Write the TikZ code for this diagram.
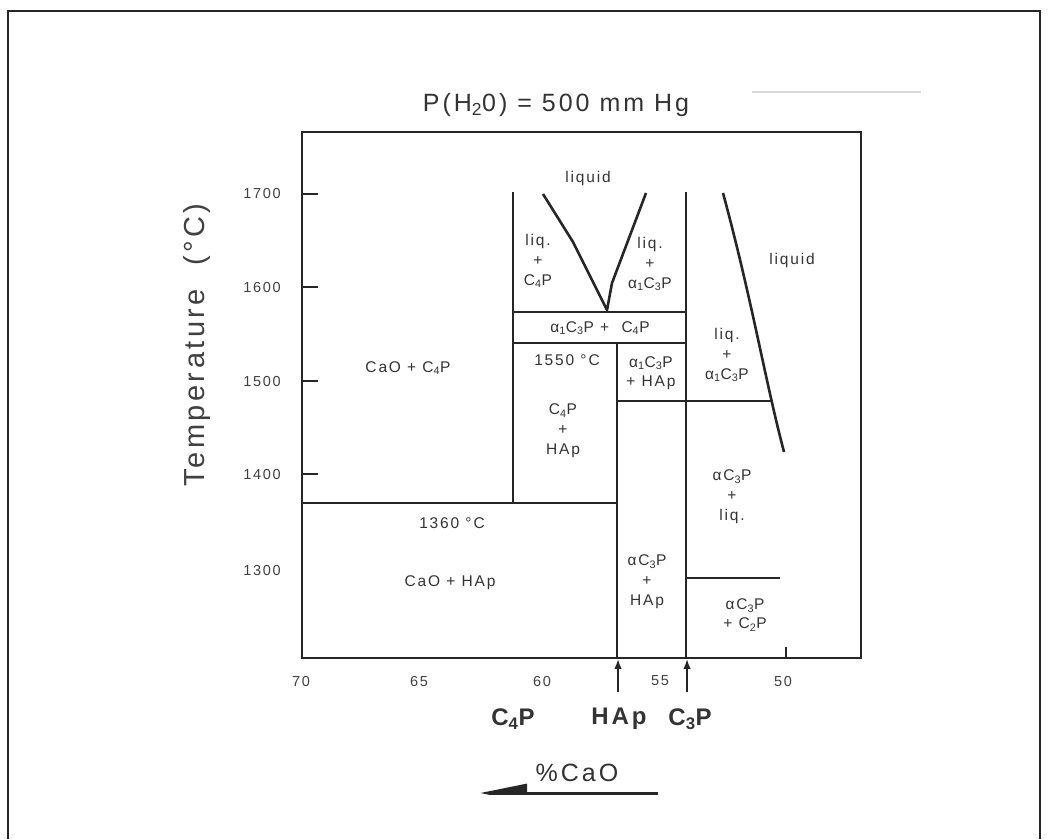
\documentclass[tikz,border=0pt]{standalone}
\usepackage{fontspec}
\setmainfont{Liberation Sans}[LetterSpace=12]
\usepackage{tikz}
\usetikzlibrary{arrows.meta,positioning}

\begin{document}
\begin{tikzpicture}[x=1pt, y=-1pt, >=Latex,
    bound/.style={draw=black!85, line width=2.6pt},
    phase/.style={text=black!80, font=\fontsize{15.5}{17}\selectfont, inner sep=1pt},
    ticklab/.style={text=black!75, font=\fontsize{14.5}{16}\selectfont, inner sep=1pt},
    comp/.style={text=black!80, font=\fontsize{24}{27}\selectfont\bfseries, inner sep=1pt}]

    \useasboundingbox (0,0) rectangle (1048,839);
    % outer frame
    \draw [black!85, line width=2.5pt] (8,839) -- (8,11) -- (1040,11) -- (1040,839);
    \draw [black!15, line width=1.5pt] (752,92) -- (921,92);

    % plot box and axes
    \draw [bound] (302,132) rectangle (861,658);
    \foreach \yy/\tt in {194/1700, 287/1600, 381/1500, 474/1400} {
        \draw [bound, line width=2pt] (302,\yy) -- (318,\yy);
        \node [ticklab] (t\tt) at (262,\yy) {\tt};
    }
    \node [ticklab] (t1300) at (262,570) {1300};
    \foreach \xx/\cc in {301/70, 419/65, 542/60, 660/55, 783/50}
        \node [ticklab] (c\cc) at (\xx,681) {\cc};
    \draw [bound, line width=2pt] (786,658) -- (786,647);

    \node [text=black!80, font=\fontsize{25}{28}\selectfont] (title) at (556,105) {P(H\textsubscript{2}0) = 500 mm Hg};
    \node [text=black!75, rotate=90, font=\fontsize{29}{32}\selectfont] (ylab) at (197,345) {Temperature\ \ (°C)};

    % phase boundaries
    \draw [bound] (302,503) -- (617,503);
    \draw [bound] (513,192) -- (513,503);
    \draw [bound] (617,343) -- (617,658);
    \draw [bound] (686,192) -- (686,658);
    \draw [bound] (513,312) -- (686,312);
    \draw [bound] (513,343) -- (686,343);
    \draw [bound] (617,401) -- (771,401);
    \draw [bound] (686,578) -- (780,578);
    \draw [bound, line join=round] (543,194) -- (573,242) -- (607,310) -- (612,283) -- (646,193);
    \draw [bound] (723,193) .. controls (752,300) and (765,380) .. (784,452);

    % region labels
    \node [phase] (liqA) at (588,178) {liquid};
    \node [phase] (liqB) at (792,260) {liquid};
    \node [phase, align=center] (liqC4) at (538,261) {liq.\\[3pt]+\\[3pt]C\textsubscript{4}P};
    \node [phase, align=center] (liqC3a) at (650,264) {liq.\\[3pt]+\\[3pt]α\textsubscript{1}C\textsubscript{3}P};
    \node [phase] (c3c4) at (600,328) {α\textsubscript{1}C\textsubscript{3}P + \ C\textsubscript{4}P};
    \node [phase] (t1550) at (567,360) {1550 °C};
    \node [phase, align=center] (c3hap) at (651,373) {α\textsubscript{1}C\textsubscript{3}P\\[2pt]+ HAp};
    \node [phase, align=center] (liqC3b) at (727,355) {liq.\\[3pt]+\\[3pt]α\textsubscript{1}C\textsubscript{3}P};
    \node [phase] (caoc4) at (408,368) {CaO + C\textsubscript{4}P};
    \node [phase, align=center] (c4hap) at (563,431) {C\textsubscript{4}P\\[3pt]+\\[3pt]HAp};
    \node [phase] (t1360) at (452,523) {1360 °C};
    \node [phase] (caohap) at (450,583) {CaO + HAp};
    \node [phase, align=center] (ac3hap) at (647,582) {αC\textsubscript{3}P\\[3pt]+\\[3pt]HAp};
    \node [phase, align=center] (ac3liq) at (732,497) {αC\textsubscript{3}P\\[3pt]+\\[3pt]liq.};
    \node [phase, align=center] (ac3c2) at (745,615) {αC\textsubscript{3}P\\[2pt]+ C\textsubscript{2}P};

    % compositions below the axis
    \node [comp] (cC4P) at (513,719) {C\textsubscript{4}P};
    \node [comp] (cHAp) at (619,719) {HAp};
    \node [comp] (cC3P) at (690,719) {C\textsubscript{3}P};
    \coordinate (hapTop) at (618,659);
    \coordinate (c3pTop) at (687,659);
    \draw [->, black!85, line width=1.5pt] (618,692) -- (hapTop);
    \draw [->, black!85, line width=1.5pt] (687,692) -- (c3pTop);

    \node [text=black!80, font=\fontsize{25}{28}\selectfont] (cao) at (577,773) {\%CaO};
    \coordinate (caoR) at (658,793);
    \coordinate (caoL) at (480,793);
    \begin{scope}
        \clip (400,700) rectangle (700,794);
        \draw [black!85, line width=3pt, -{Triangle[length=47pt, width=18pt]}] (caoR) -- (caoL);
    \end{scope}
\end{tikzpicture}
\end{document}
